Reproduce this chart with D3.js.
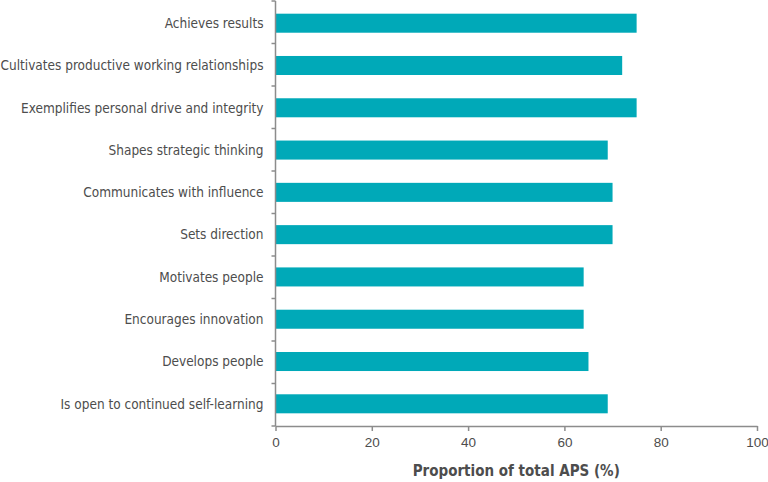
<!DOCTYPE html>
<meta charset="utf-8">
<style>
    body { margin: 0; background: #fff; }
    svg { font-family: "Liberation Sans Narrow", "DejaVu Sans Condensed", "Roboto", sans-serif; }
    .axis path, .axis line { stroke: #8c8c8c; stroke-width: 1.5px; }
    .axis text { fill: #4d4d4d; font-size: 13.5px; }
</style>
<svg width="768" height="482"></svg>
<script src="https://d3js.org/d3.v7.min.js"></script>
<script>
    var categories = [
        "Achieves results",
        "Cultivates productive working relationships",
        "Exemplifies personal drive and integrity",
        "Shapes strategic thinking",
        "Communicates with influence",
        "Sets direction",
        "Motivates people",
        "Encourages innovation",
        "Develops people",
        "Is open to continued self-learning"
    ];
    var values = [75, 72, 75, 69, 70, 70, 64, 64, 65, 69];
    var xTicks = [0, 20, 40, 60, 80, 100];

    var svg = d3.select("svg"),
        margin = { top: 1, left: 275.5, right: 11, bottom: 56 },
        width = +svg.attr("width") - margin.left - margin.right,
        height = +svg.attr("height") - margin.top - margin.bottom,
        g = svg.append("g").attr("transform", "translate(" + margin.left + "," + margin.top + ")");

    var x = d3.scaleLinear().domain([0, 100]).range([0, width]);
    var y = d3.scaleBand().domain(categories).range([0, height]).paddingInner(0.55).paddingOuter(0.3);

    g.selectAll("rect")
        .data(values)
        .enter().append("rect")
        .attr("x", 0)
        .attr("y", function (d, i) { return y(categories[i]); })
        .attr("width", function (d) { return x(d); })
        .attr("height", y.bandwidth())
        .attr("fill", "#00a9b8");

    // x axis
    g.append("g")
        .attr("class", "axis")
        .attr("transform", "translate(0," + height + ")")
        .call(d3.axisBottom(x).tickValues(xTicks).tickSize(5).tickSizeOuter(0).tickPadding(6));

    // y axis, ticks sit between categories
    var yAxis = g.append("g").attr("class", "axis");
    yAxis.append("line")
        .attr("x1", 0).attr("x2", 0)
        .attr("y1", 0).attr("y2", height);
    yAxis.selectAll(".sep")
        .data(d3.range(categories.length + 1))
        .enter().append("line")
        .attr("x1", -4).attr("x2", 0)
        .attr("y1", function (d) { return d * (height / categories.length); })
        .attr("y2", function (d) { return d * (height / categories.length); });

    yAxis.selectAll("text")
        .data(categories)
        .enter().append("text")
        .attr("x", -12)
        .attr("y", function (d) { return y(d) + y.bandwidth() / 2; })
        .attr("dy", "0.35em")
        .attr("text-anchor", "end")
        .text(function (d) { return d; });

    svg.append("text")
        .attr("x", margin.left + width / 2)
        .attr("y", 476)
        .attr("text-anchor", "middle")
        .attr("fill", "#4d4d4d")
        .attr("font-size", "15px")
        .attr("font-weight", "bold")
        .text("Proportion of total APS (%)");
</script>
